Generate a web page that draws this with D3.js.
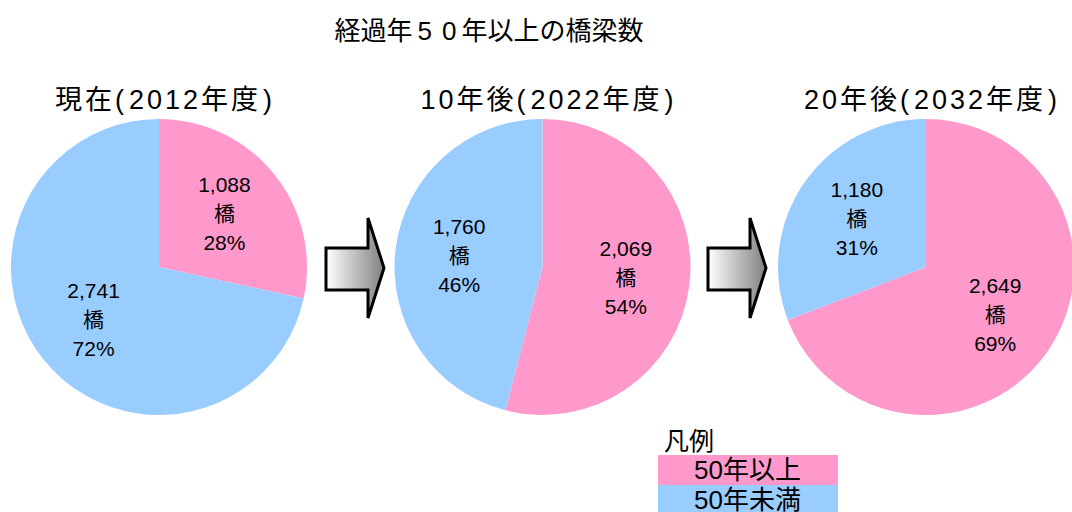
<!DOCTYPE html>
<html>
<head>
<meta charset="utf-8">
<script src="https://cdn.jsdelivr.net/npm/d3@7"></script>
<style>
  body { margin: 0; background: #fff; }
  svg { display: block; font-family: "Liberation Sans", Arial, "Noto Sans CJK JP", sans-serif; }
</style>
</head>
<body>
<svg id="chart"></svg>
<script>
// data
const pieTitles = ["現在(2012年度)", "10年後(2022年度)", "20年後(2032年度)"];
const categories = ["50年以上", "50年未満"];
const over50 = [1088, 2069, 2649];
const under50 = [2741, 1760, 1180];
const unitLabel = "橋";

const W = 1072, H = 512;
const colors = { "50年以上": "#FF99CC", "50年未満": "#99CCFF" };

const svg = d3.select("#chart").attr("width", W).attr("height", H);

// title (digits are spaced out in the original)
const title = svg.append("text")
  .attr("x", 489).attr("y", 40)
  .attr("text-anchor", "middle")
  .attr("font-size", 26)
  .attr("fill", "#000");
title.append("tspan").text("経過年");
title.append("tspan").attr("dx", 5).text("5");
title.append("tspan").attr("dx", 10).text("0");
title.append("tspan").attr("dx", 5).text("年以上の橋梁数");

const r = 148;
const cx = d3.scalePoint().domain(d3.range(3)).range([159, 926]);
const cy = 267;

const pie = d3.pie().sort(null).value(d => d.value);
const arc = d3.arc().innerRadius(0).outerRadius(r);
const labelArc = d3.arc().innerRadius(84).outerRadius(84);
const pct = d3.format(".0%");

pieTitles.forEach((t, i) => {
  const data = [
    { key: categories[0], value: over50[i] },
    { key: categories[1], value: under50[i] }
  ];
  const total = d3.sum(data, d => d.value);
  const g = svg.append("g").attr("transform", `translate(${cx(i)},${cy})`);

  // sub-title, with a little air inside the brackets
  const parts = t.split(/[()]/);
  const st = svg.append("text")
    .attr("x", cx(i) + 6).attr("y", 109)
    .attr("text-anchor", "middle")
    .attr("font-size", 27)
    .attr("letter-spacing", 3)
    .attr("fill", "#000");
  st.append("tspan").text(parts[0] + "(");
  st.append("tspan").attr("dx", 2).text(parts[1]);
  st.append("tspan").attr("dx", 2).text(")");

  const arcs = pie(data);
  g.selectAll("path").data(arcs).enter().append("path")
    .attr("d", arc)
    .attr("fill", d => colors[d.data.key]);

  const lab = g.selectAll(".lab").data(arcs).enter().append("text")
    .attr("class", "lab")
    .attr("text-anchor", "middle")
    .attr("font-size", 21)
    .attr("fill", "#000")
    .attr("transform", d => `translate(${labelArc.centroid(d)})`);
  lab.append("tspan").attr("x", 0).attr("y", -22).text(d => d3.format(",")(d.data.value));
  lab.append("tspan").attr("x", 0).attr("y", 7).text(unitLabel);
  lab.append("tspan").attr("x", 0).attr("y", 36).text(d => pct(d.data.value / total));
});

// arrows between pies
const defs = svg.append("defs");
const grad = defs.append("linearGradient").attr("id", "arrowGrad")
  .attr("x1", "0%").attr("x2", "100%").attr("y1", "0%").attr("y2", "0%");
grad.append("stop").attr("offset", "0%").attr("stop-color", "#ffffff");
grad.append("stop").attr("offset", "100%").attr("stop-color", "#808080");

const arrowX = [326, 708];
arrowX.forEach(x0 => {
  const pts = [[0, 30], [42, 30], [42, 0], [58, 50], [42, 100], [42, 72], [0, 72]];
  svg.append("path")
    .attr("transform", `translate(${x0},218)`)
    .attr("d", d3.line()(pts) + "Z")
    .attr("fill", "url(#arrowGrad)")
    .attr("stroke", "#000")
    .attr("stroke-width", 3)
    .attr("stroke-linejoin", "miter");
});

// legend
const lg = svg.append("g").attr("transform", "translate(658,425)");
lg.append("text").attr("x", 6).attr("y", 25).attr("font-size", 25).attr("fill", "#000").text("凡例");
categories.forEach((c, i) => {
  lg.append("rect").attr("x", 0).attr("y", 30 + i * 30).attr("width", 180).attr("height", 30)
    .attr("fill", colors[c]);
  lg.append("text").attr("x", 36).attr("y", 54 + i * 30).attr("font-size", 26).attr("fill", "#000").text(c);
});
</script>
</body>
</html>
